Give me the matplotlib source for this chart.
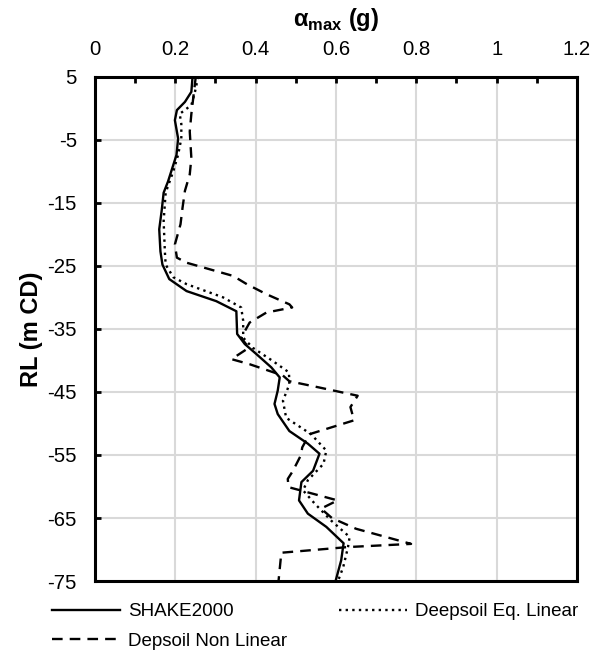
import matplotlib
matplotlib.use("Agg")
from matplotlib import pyplot as plt
from matplotlib.ticker import MultipleLocator

plt.rcParams['font.family'] = ['Liberation Sans', 'DejaVu Sans']
plt.rcParams['mathtext.fontset'] = 'custom'
plt.rcParams['mathtext.rm'] = 'Liberation Sans'
plt.rcParams['mathtext.bf'] = 'Liberation Sans:bold'
plt.rcParams['axes.unicode_minus'] = False

# SHAKE2000
shake_rl = [5, 2.6, 1.0, -0.3, -1.9, -4.8, -7.4, -10.0, -11.6, -13.4, -16.3, -19.2,
            -22.7, -24.8, -27.1, -29.0, -30.6, -32.2, -35.8, -37.4, -39.0, -41.1,
            -42.7, -44.8, -46.9, -48.5, -51.2, -53.2, -54.8, -57.5, -59.3, -62.2,
            -64.3, -66.4, -69.0, -71.7, -75]
shake_a = [0.243, 0.24, 0.224, 0.204, 0.199, 0.207, 0.203, 0.19, 0.182, 0.171, 0.166, 0.16,
           0.163, 0.168, 0.185, 0.228, 0.302, 0.352, 0.354, 0.373, 0.402, 0.439,
           0.46, 0.455, 0.447, 0.455, 0.484, 0.53, 0.559, 0.543, 0.514, 0.508,
           0.53, 0.576, 0.619, 0.613, 0.599]

# Deepsoil equivalent linear
eql_rl = [5, 2.6, 0.5, -0.9, -2.5, -4.8, -7.4, -10.0, -13.4, -17.9, -22.7, -24.8,
          -26.8, -27.9, -30.0, -31.6, -33.7, -36.4, -38.0, -40.1, -41.9, -43.8,
          -46.4, -49.1, -51.7, -54.3, -56.4, -59.0, -60.6, -62.7, -65.4, -68.0,
          -69.6, -72.8, -75]
eql_a = [0.257, 0.249, 0.24, 0.211, 0.215, 0.215, 0.207, 0.195, 0.176, 0.171, 0.174, 0.176,
         0.195, 0.228, 0.319, 0.364, 0.369, 0.369, 0.393, 0.443, 0.483, 0.484,
         0.468, 0.476, 0.538, 0.576, 0.569, 0.53, 0.518, 0.547, 0.588, 0.634,
         0.63, 0.618, 0.605]

# Deepsoil non linear
nl_rl = [5, -0.9, -3.7, -7.9, -10.5, -13.1, -15.8, -18.4, -21.6, -23.7, -24.5, -26.6,
         -27.9, -29.5, -31.1, -31.6, -32.4, -34.0, -36.4, -38.0, -39.8, -40.6,
         -42.4, -43.3, -44.3, -45.6, -47.4, -49.5, -51.7, -53.8, -55.0, -57.5,
         -58.8, -60.1, -62.2, -63.5, -65.0, -66.7, -69.1, -69.6, -70.5, -75]
nl_a = [0.251, 0.24, 0.236, 0.24, 0.236, 0.224, 0.218, 0.213, 0.199, 0.204, 0.228, 0.344,
        0.378, 0.427, 0.484, 0.491, 0.427, 0.385, 0.364, 0.383, 0.34, 0.385,
        0.468, 0.484, 0.559, 0.654, 0.636, 0.645, 0.534, 0.516, 0.513, 0.493,
        0.48, 0.482, 0.604, 0.563, 0.59, 0.65, 0.787, 0.63, 0.464, 0.457]

fig = plt.figure(figsize=(6.01, 6.5), dpi=100)
ax = fig.add_axes([0.158, 0.106, 0.802, 0.776])

l1, = ax.plot(shake_a, shake_rl, color='black', lw=1.7, label='SHAKE2000')
l2, = ax.plot(eql_a, eql_rl, color='black', lw=1.7, linestyle=(0, (1, 1.8)),
              label='Deepsoil Eq. Linear')
l3, = ax.plot(nl_a, nl_rl, color='black', lw=1.7, linestyle=(0, (4.5, 3)),
              label='Depsoil Non Linear')

ax.set_xlim(0, 1.2)
ax.set_ylim(-75, 5)
ax.xaxis.set_minor_locator(MultipleLocator(0.1))
ax.set_yticks([5, -5, -15, -25, -35, -45, -55, -65, -75])
ax.set_xticks([0, 0.2, 0.4, 0.6, 0.8, 1.0, 1.2])
ax.set_xticklabels(['0', '0.2', '0.4', '0.6', '0.8', '1', '1.2'])

ax.xaxis.tick_top()
ax.xaxis.set_label_position('top')
ax.tick_params(axis='x', which='both', direction='in', top=True, bottom=False,
               labeltop=True, labelbottom=False, labelsize=14.7, pad=13,
               length=4.5, width=2)
ax.tick_params(axis='y', which='major', direction='in', length=4.5, width=2,
               labelsize=14.7, pad=13)

ax.grid(True, which='major', color='#d9d9d9', lw=1.5)
ax.set_axisbelow(True)
for s in ax.spines.values():
    s.set_linewidth(2.2)

ax.set_xlabel(r'α$_{\mathbf{max}}$ (g)', fontsize=17, fontweight='bold', labelpad=10)
ax.set_ylabel('RL (m CD)', fontsize=17, fontweight='bold', labelpad=3)

fig.legend([l1, l3, l2], ['SHAKE2000', 'Depsoil Non Linear', 'Deepsoil Eq. Linear'],
           ncol=2, loc='upper left', bbox_to_anchor=(0.0865, 0.072), frameon=False,
           fontsize=13.5, handlelength=3.63, columnspacing=2.75, handletextpad=0.43,
           labelspacing=0.65, borderaxespad=0, borderpad=0)

fig.savefig('out.png', dpi=100)
